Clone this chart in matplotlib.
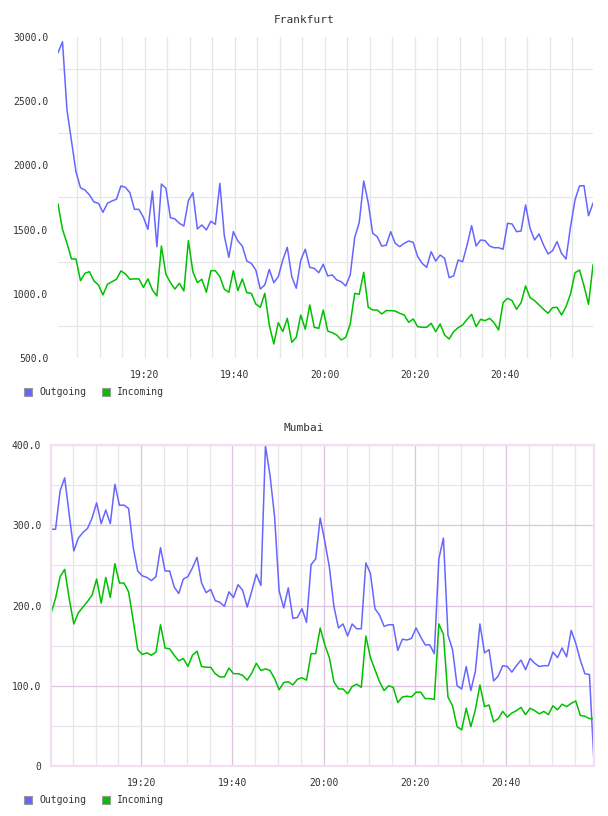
import matplotlib
matplotlib.use("Agg")
import matplotlib.pyplot as plt
import matplotlib.dates as mdates
from matplotlib.patches import Rectangle
from matplotlib.ticker import FixedLocator, FuncFormatter
import pandas as pd

# --- Data (one sample per minute) ---
fra_start = "2024-01-01 19:00:40"
fra_outgoing = [
    2878, 2963, 2431, 2190, 1950, 1826, 1808, 1770, 1715, 1705,
    1635, 1705, 1723, 1736, 1840, 1829, 1787, 1658, 1658, 1596,
    1502, 1800, 1367, 1855, 1822, 1593, 1583, 1549, 1528, 1725,
    1787, 1505, 1536, 1497, 1565, 1541, 1860, 1450, 1284, 1484,
    1411, 1372, 1255, 1237, 1185, 1037, 1069, 1190, 1087, 1133,
    1263, 1362, 1133, 1043, 1263, 1347, 1206, 1198, 1164, 1230,
    1139, 1147, 1108, 1094, 1061, 1147, 1440, 1554, 1879, 1710,
    1471, 1445, 1372, 1378, 1484, 1393, 1367, 1393, 1411, 1401,
    1289, 1237, 1206, 1328, 1255, 1302, 1276, 1126, 1139, 1263,
    1250, 1380, 1531, 1372, 1419, 1414, 1372, 1359, 1359, 1347,
    1549, 1544, 1484, 1489, 1692, 1510, 1419, 1466, 1380, 1310,
    1336, 1406, 1315, 1271, 1523, 1731, 1840, 1842, 1608, 1705,
]
fra_incoming = [
    1699, 1502, 1393, 1271, 1271, 1102, 1160, 1172, 1100, 1069,
    991, 1074, 1094, 1113, 1178, 1155, 1113, 1116, 1116, 1050,
    1116, 1030, 983, 1372, 1152, 1087, 1037, 1082, 1022, 1414,
    1172, 1087, 1113, 1012, 1180, 1180, 1133, 1035, 1012, 1180,
    1025, 1116, 1009, 1004, 920, 895, 1004, 757, 609, 775,
    705, 809, 622, 661, 835, 724, 913, 739, 731, 874,
    710, 697, 679, 640, 661, 765, 1004, 996, 1167, 895,
    874, 874, 843, 869, 869, 866, 848, 835, 778, 804,
    744, 739, 739, 770, 705, 765, 679, 648, 705, 736,
    757, 801, 840, 744, 801, 791, 809, 775, 718, 931,
    965, 947, 879, 931, 1061, 970, 947, 913, 879, 848,
    892, 895, 835, 900, 999, 1164, 1185, 1061, 918, 1224,
]

mum_start = "2024-01-01 19:00:14"
mum_outgoing = [
    295, 295, 343, 359, 313, 268, 284, 291, 296, 309,
    328, 302, 319, 302, 351, 325, 325, 321, 273, 243,
    237, 235, 231, 236, 272, 243, 243, 223, 215, 233,
    236, 247, 260, 228, 216, 220, 206, 204, 199, 217,
    210, 226, 219, 198, 218, 239, 225, 399, 362, 311,
    218, 197, 222, 184, 185, 196, 179, 251, 258, 309,
    280, 248, 199, 172, 177, 162, 177, 171, 171, 253,
    240, 196, 188, 174, 176, 176, 144, 158, 157, 159,
    172, 161, 151, 151, 140, 258, 284, 163, 145, 100,
    96, 124, 94, 118, 177, 141, 145, 106, 112, 125,
    124, 117, 125, 132, 120, 134, 128, 124, 125, 125,
    142, 135, 147, 136, 169, 153, 132, 115, 114, 4,
]
mum_incoming = [
    190, 209, 236, 245, 208, 177, 191, 198, 205, 213,
    233, 203, 235, 210, 252, 228, 228, 217, 182, 145,
    139, 141, 138, 142, 176, 147, 146, 138, 131, 134,
    124, 138, 143, 124, 123, 123, 115, 111, 111, 122,
    115, 115, 113, 107, 116, 128, 119, 121, 119, 109,
    95, 104, 105, 101, 108, 110, 107, 140, 140, 172,
    151, 135, 105, 96, 96, 90, 99, 102, 98, 162,
    135, 120, 105, 94, 100, 98, 79, 86, 87, 86,
    92, 92, 84, 84, 83, 177, 164, 86, 75, 49,
    45, 72, 49, 70, 101, 74, 76, 55, 59, 68,
    61, 66, 69, 73, 64, 72, 69, 65, 68, 64,
    75, 70, 77, 74, 78, 81, 63, 62, 59, 59,
]

series_labels = ["Outgoing", "Incoming"]
series_colors = ["#6666ff", "#00c000"]

FONT = "DejaVu Sans Mono"
TEXT = "#333333"
W, H = 608, 816

fra_times = pd.date_range(fra_start, periods=len(fra_outgoing), freq="min")
mum_times = pd.date_range(mum_start, periods=len(mum_outgoing), freq="min")


def yfmt(v, pos):
    return "0" if v == 0 else f"{v:.1f}"


def setup_time_axis(ax, times):
    ax.set_xlim(times[0], times[-1])
    ax.xaxis.set_major_locator(mdates.MinuteLocator(byminute=[0, 20, 40]))
    ax.xaxis.set_minor_locator(mdates.MinuteLocator(byminute=range(0, 60, 5)))
    ax.xaxis.set_major_formatter(mdates.DateFormatter("%H:%M"))
    ax.tick_params(axis="both", which="both", length=0, labelsize=7,
                   labelcolor=TEXT)
    ax.tick_params(axis="x", pad=9)
    ax.tick_params(axis="y", pad=7)
    for lbl in ax.get_xticklabels() + ax.get_yticklabels():
        lbl.set_fontfamily(FONT)


def legend(y_px):
    items = [(24, 39), (102, 117)]
    for (bx, tx), lab, col in zip(items, series_labels, series_colors):
        fig.add_artist(Rectangle((bx / W, 1 - (y_px + 4) / H), 8 / W, 8 / H,
                                 transform=fig.transFigure, facecolor=col,
                                 edgecolor="#999999", lw=0.8))
        fig.text(tx / W, 1 - y_px / H, lab, fontsize=7, family=FONT,
                 color=TEXT, va="center", ha="left")


fig = plt.figure(figsize=(W / 100, H / 100), dpi=100)

# --- Frankfurt ---
ax1 = fig.add_axes([58 / W, 1 - 358 / H, 535 / W, 321 / H])
ax1.plot(fra_times, fra_outgoing, color=series_colors[0], lw=1.1)
ax1.plot(fra_times, fra_incoming, color=series_colors[1], lw=1.1)
setup_time_axis(ax1, fra_times)
ax1.set_ylim(500, 3000)
ax1.yaxis.set_major_locator(FixedLocator(range(500, 3001, 500)))
ax1.yaxis.set_minor_locator(FixedLocator(range(750, 3000, 500)))
ax1.yaxis.set_major_formatter(FuncFormatter(yfmt))
for lbl in ax1.get_yticklabels():
    lbl.set_fontfamily(FONT)
ax1.set_axisbelow(True)
ax1.grid(True, axis="x", which="both", color="#e6e6e6", lw=0.9)
ax1.grid(True, axis="y", which="minor", color="#e6e6e6", lw=0.9)
ax1.grid(False, axis="y", which="major")
for s in ax1.spines.values():
    s.set_visible(False)
fig.text(0.5, 1 - 20 / H, "Frankfurt", ha="center", va="center",
         fontsize=8, family=FONT, color=TEXT)
legend(392)

# --- Mumbai ---
ax2 = fig.add_axes([51 / W, 1 - 766 / H, 543 / W, 321 / H])
ax2.plot(mum_times, mum_outgoing, color=series_colors[0], lw=1.1)
ax2.plot(mum_times, mum_incoming, color=series_colors[1], lw=1.1)
setup_time_axis(ax2, mum_times)
ax2.set_ylim(0, 400)
ax2.yaxis.set_major_locator(FixedLocator(range(0, 401, 100)))
ax2.yaxis.set_minor_locator(FixedLocator(range(50, 400, 100)))
ax2.yaxis.set_major_formatter(FuncFormatter(yfmt))
for lbl in ax2.get_yticklabels():
    lbl.set_fontfamily(FONT)
ax2.set_axisbelow(True)
ax2.grid(True, which="major", color="#dcc6dc", lw=0.9)
ax2.grid(True, which="minor", color="#ebe3eb", lw=0.9)
for s in ax2.spines.values():
    s.set_color("#f0e0f0")
    s.set_linewidth(1.6)
fig.text(0.5, 1 - 428 / H, "Mumbai", ha="center", va="center",
         fontsize=8, family=FONT, color=TEXT)
legend(800)

fig.savefig("out.png", dpi=100, facecolor="white")
